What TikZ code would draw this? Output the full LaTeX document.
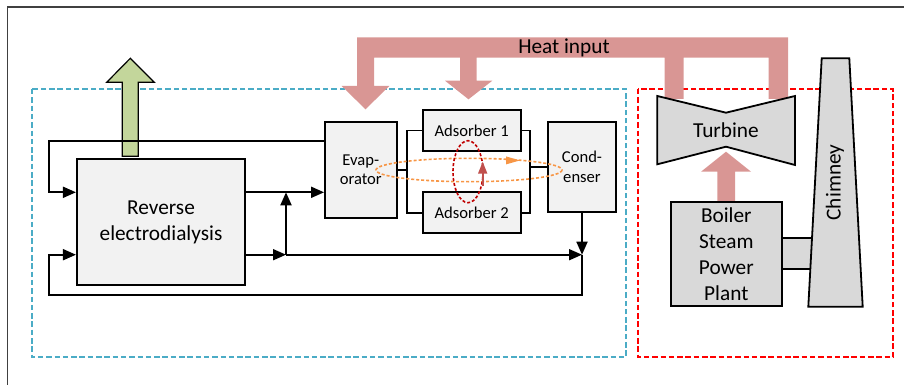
\documentclass[tikz,border=0pt]{standalone}
\usepackage{fontspec}
\setmainfont{Carlito}
\usetikzlibrary{arrows.meta,calc}
\definecolor{boxfill}{HTML}{F2F2F2}
\definecolor{darkfill}{HTML}{D9D9D9}
\definecolor{heat}{HTML}{D99694}
\definecolor{greenarrow}{HTML}{C3D69B}
\definecolor{bluedash}{HTML}{4BACC6}
\definecolor{reddash}{HTML}{FF0000}
\definecolor{orangedash}{HTML}{F79646}
\definecolor{darkred}{HTML}{C00000}
\definecolor{redarrow}{HTML}{C0504D}
\definecolor{framegray}{HTML}{404040}
\begin{document}
\begin{tikzpicture}[x=1pt,y=-1pt,
  blk/.style={draw=black, line width=1.8pt, fill=boxfill, inner sep=0pt, align=center},
  big/.style={font=\fontsize{21.3}{26}\selectfont},
  mid/.style={font=\fontsize{16.6}{19.3}\selectfont},
  conn/.style={draw=black, line width=1.8pt},
  arr/.style={conn, -{Triangle[length=13pt,width=11pt]}},
  zone/.style={line width=2.6pt, dash pattern=on 5.5pt off 2.8pt},
  loopdash/.style={line width=1.6pt, dash pattern=on 3pt off 2pt}]
\useasboundingbox (0,0) rectangle (904,385);
% frame
\draw[framegray, line width=1.4pt] (7.5,385) -- (7.5,7) -- (904,7);
% zones
\draw[bluedash, zone] (32,89) rectangle (626,357);
\draw[reddash, zone] (638,89) rectangle (893,357);
% heat input band
\fill[heat] (357,37.5) -- (788,37.5) -- (788,99) -- (768.5,99) -- (768.5,57.7) -- (683.5,57.7) -- (683.5,99) -- (664.5,99) -- (664.5,57.7) -- (476.7,57.7) -- (476.7,80.7) -- (492.3,80.7) -- (468.5,99.3) -- (445,80.7) -- (460,80.7) -- (460,57.7) -- (374,57.7) -- (374,86) -- (389.3,86) -- (365.5,109.3) -- (341.7,86) -- (357,86) -- cycle;
\node[big] (heatin) at (564,48) {Heat input};
% green output arrow
\draw[black, line width=1.2pt, fill=greenarrow] (122.3,156.3) -- (122.3,82.3) -- (106.7,82.3) -- (130.3,58.3) -- (154.3,82.3) -- (138.3,82.3) -- (138.3,156.3) -- cycle;
% boiler to turbine arrow
\fill[heat] (717.3,201.7) -- (717.3,171.7) -- (701,171.7) -- (726,151.7) -- (751,171.7) -- (735,171.7) -- (735,201.7) -- cycle;
% turbine
\draw[black, line width=1.8pt, fill=darkfill] (657.3,96) -- (726,112.7) -- (795,96) -- (795,165) -- (726,146.7) -- (657.3,164.3) -- cycle;
\node[big] (turb) at (726,130) {Turbine};
% boiler - chimney duct and chimney
\draw[black, line width=1.8pt, fill=darkfill] (781.7,238.3) rectangle (813,269);
\draw[black, line width=1.8pt, fill=darkfill] (821.7,58.3) -- (849.3,58.3) -- (862.7,306.7) -- (808.3,306.7) -- cycle;
\node[big, rotate=90] (chim) at (835,182.5) {Chimney};
\node[blk, fill=darkfill, big, minimum width=110.7pt, minimum height=104pt] (boiler) at (726.3,253.7) {Boiler\\Steam\\Power\\Plant};
% blocks
\node[blk, big, minimum width=168.3pt, minimum height=126pt] (red) at (161,222) {Reverse\\electrodialysis};
\node[blk, mid, minimum width=71.7pt, minimum height=95.7pt] (evap) at (360.8,169.8) {Evap-\\orator};
\node[blk, mid, minimum width=98pt, minimum height=41pt] (ads1) at (471.7,130.5) {Adsorber 1};
\node[blk, mid, minimum width=98pt, minimum height=40.7pt] (ads2) at (471.7,212.7) {Adsorber 2};
\node[blk, mid, minimum width=67.4pt, minimum height=90pt] (cond) at (582,166.7) {Cond-\\enser};
% coordinates
\coordinate (yA) at (0,140.7);
\coordinate (yB) at (0,192.3);
\coordinate (yC) at (0,254.7);
\coordinate (yD) at (0,295.3);
\coordinate (xL) at (49.3,0);
\coordinate (jn) at (286,254.7);
\coordinate (cj) at (cond.south |- yC);
\coordinate (eL) at (406.7,170);
\coordinate (eR) at (530,166.7);
% connectors
\draw[arr] (evap.west |- yA) -| (xL |- yB) -- (red.west |- yB);
\draw[arr] (red.east |- yB) -- (evap.west |- yB);
\draw[arr] (red.east |- yC) -- (jn);
\draw[arr] (jn) -- (jn |- yB);
\draw[arr] (jn) -- (cj);
\draw[arr] (cond.south) -- (cj);
\draw[arr] (cj) -- (cj |- yD) -| (xL |- yC) -- (red.west |- yC);
\draw[conn] (evap.east |- eL) -- (eL);
\draw[conn] (ads1.west) -| (eL) |- (ads2.west);
\draw[conn] (ads1.east) -| (eR) |- (ads2.east);
\draw[conn] (eR) -- (cond.west);
% cycles
\draw[orangedash, loopdash] (469,170) ellipse [x radius=93, y radius=11.7];
\fill[orangedash] (520,160.4) -- (506,156.4) -- (506,164.4) -- cycle;
\draw[darkred, loopdash] (468,171.7) ellipse [x radius=15, y radius=31];
\draw[redarrow, line width=1.8pt, -{Triangle[length=12pt,width=9pt]}] (482.7,186) -- (482.7,161.7);
\end{tikzpicture}
\end{document}
